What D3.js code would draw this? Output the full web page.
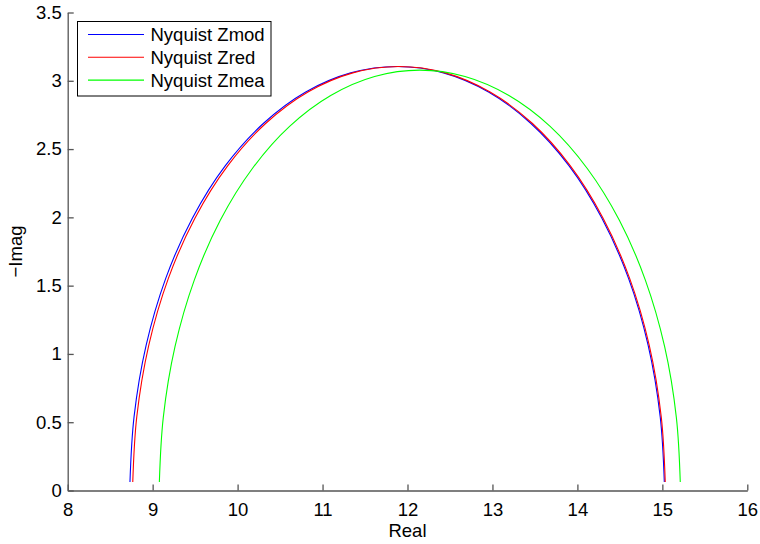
<!DOCTYPE html>
<html><head><meta charset="utf-8">
<script src="https://cdn.jsdelivr.net/npm/d3@7"></script>
<style>body{margin:0;background:#fff}svg{display:block}text{font-family:Arial,"Liberation Sans",Helvetica,sans-serif}</style>
</head><body><svg id="c" width="760" height="544"></svg>
<script>
const seriesNames = ["Nyquist Zmod", "Nyquist Zred", "Nyquist Zmea"];
const seriesColors = ["#0000ff", "#ff0000", "#00ff00"];
const xTicks = [8, 9, 10, 11, 12, 13, 14, 15, 16];
const yTicks = [0, 0.5, 1, 1.5, 2, 2.5, 3, 3.5];
const xLabel = "Real";
const yLabel = "\u2212Imag";

// [Real, -Imag] points
const zmod = [[8.733,0.062],[8.781,0.539],[8.923,1.062],[9.154,1.553],[9.469,1.996],[9.856,2.379],[10.306,2.689],[10.802,2.918],[11.332,3.058],[11.878,3.105],[12.424,3.058],[12.954,2.918],[13.450,2.689],[13.900,2.379],[14.287,1.996],[14.602,1.553],[14.833,1.062],[14.975,0.539],[15.023,0.062]];
const zred = [[8.766,0.062],[8.813,0.539],[8.954,1.062],[9.185,1.553],[9.499,1.996],[9.885,2.379],[10.333,2.689],[10.828,2.918],[11.356,3.058],[11.900,3.105],[12.444,3.058],[12.972,2.918],[13.468,2.689],[13.915,2.379],[14.301,1.996],[14.615,1.553],[14.846,1.062],[14.987,0.539],[15.034,0.062]];
const zmea = [[9.079,0.062],[9.125,0.534],[9.263,1.053],[9.489,1.539],[9.796,1.979],[10.174,2.358],[10.612,2.666],[11.096,2.892],[11.613,3.031],[12.145,3.078],[12.677,3.031],[13.194,2.892],[13.679,2.666],[14.116,2.358],[14.494,1.979],[14.801,1.539],[15.027,1.053],[15.165,0.534],[15.211,0.062]];
const allSeries = [zmod, zred, zmea];

const svg = d3.select("#c");
const x = d3.scaleLinear().domain([8, 16]).range([67.7, 747.3]);
const y = d3.scaleLinear().domain([0, 3.5]).range([490.5, 12.5]);
const fs = 18.5, axisColor = "#555";

// lines
const line = d3.line().x(d => x(d[0])).y(d => y(d[1])).curve(d3.curveCatmullRom.alpha(0.5));
allSeries.forEach((s, i) => {
  svg.append("path").attr("d", line(s)).attr("fill", "none")
    .attr("stroke", seriesColors[i]).attr("stroke-width", 1.1);
});

// axes
const xAxis = svg.append("g").attr("transform", `translate(0,${y(0)})`)
  .call(d3.axisBottom(x).tickValues(xTicks).tickSizeInner(-6).tickSizeOuter(0).tickPadding(12).tickFormat(d3.format("")));
const yAxis = svg.append("g").attr("transform", `translate(${x(8)},0)`)
  .call(d3.axisLeft(y).tickValues(yTicks).tickSizeInner(-6).tickSizeOuter(0).tickPadding(6).tickFormat(d3.format("")));
[xAxis, yAxis].forEach(a => {
  a.select(".domain").attr("stroke", axisColor).attr("stroke-width", 1.3);
  a.selectAll(".tick line").attr("stroke", axisColor).attr("stroke-width", 1.3);
  a.selectAll(".tick text").attr("fill", "#000").style("font-size", fs + "px")
   .style("font-family", "Arial, 'Liberation Sans', Helvetica, sans-serif");
});
xAxis.selectAll(".tick text").attr("dy", "0.71em");

// axis labels
svg.append("text").attr("x", (x(8) + x(16)) / 2).attr("y", 537).attr("text-anchor", "middle")
  .style("font-size", fs + "px").text(xLabel);
svg.append("text").attr("transform", `translate(22,${(y(0) + y(3.5)) / 2}) rotate(-90)`)
  .attr("text-anchor", "middle").style("font-size", fs + "px").text(yLabel);

// legend
const lg = svg.append("g");
lg.append("rect").attr("x", 77.5).attr("y", 21.5).attr("width", 193.5).attr("height", 74.5)
  .attr("fill", "#fff").attr("stroke", "#000").attr("stroke-width", 1);
seriesNames.forEach((n, i) => {
  const cy = 34.5 + i * 22.8;
  lg.append("line").attr("x1", 88).attr("x2", 144).attr("y1", cy).attr("y2", cy)
    .attr("stroke", seriesColors[i]).attr("stroke-width", 1.1);
  lg.append("text").attr("x", 150.5).attr("y", cy + 6.7).style("font-size", fs + "px").text(n);
});
</script></body></html>
